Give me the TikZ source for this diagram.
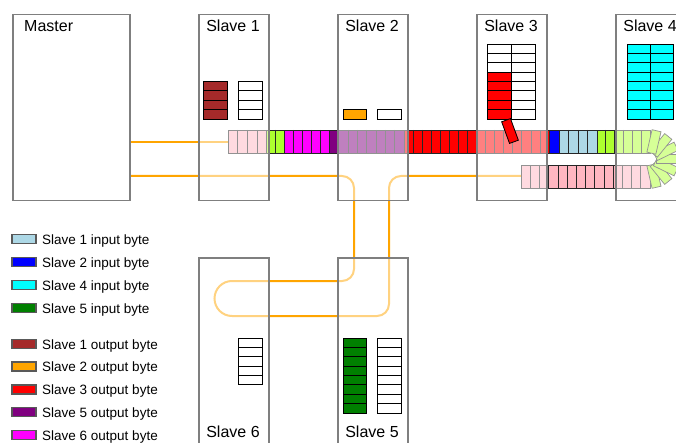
\documentclass[tikz,border=0pt]{standalone}
\usepackage{fontspec}
\setmainfont{Liberation Sans}
\definecolor{boxgray}{HTML}{7F7F7F}
\definecolor{cable}{HTML}{FFA500}
\definecolor{cbrown}{HTML}{A52A2A}
\definecolor{corange}{HTML}{FFA500}
\definecolor{cred}{HTML}{FF0000}
\definecolor{ccyan}{HTML}{00FFFF}
\definecolor{cgreen}{HTML}{008000}
\definecolor{clblue}{HTML}{ADD8E6}
\definecolor{cblue}{HTML}{0000FF}
\definecolor{cpurple}{HTML}{800080}
\definecolor{cmagenta}{HTML}{FF00FF}
\definecolor{cgy}{HTML}{ADFF2F}
\definecolor{cpink}{HTML}{FFB6C1}
\tikzset{
  slavebox/.style={draw=boxgray, line width=1.5pt, fill=white, fill opacity=0.5, draw opacity=1,
    minimum width=70pt, minimum height=186pt, anchor=north west, inner sep=0pt},
  cableline/.style={draw=cable, line width=2pt},
  regbyte/.style={draw=black, line width=0.8pt},
  framebyte/.style={draw=black!85, line width=0.7pt},
  lbl/.style={font=\fontsize{16}{19}\selectfont, inner sep=0pt, anchor=base},
  legtext/.style={font=\fontsize{13.5}{16}\selectfont, inner sep=0pt, anchor=base west},
  swatch/.style={draw=black!65, line width=1.5pt}
}
\newcommand\byterun[6]{%
  \draw[framebyte, fill=#6] (#1,#4) rectangle (#2,#5);
  \pgfmathsetmacro\bw{(#2-#1)/#3}%
  \pgfmathtruncatemacro\nn{#3-1}%
  \ifnum\nn>0
    \foreach \i in {1,...,\nn}{\draw[framebyte] ({#1+\i*\bw},#4) -- ({#1+\i*\bw},#5);}
  \fi
}
\newcommand\regcol[4]{%
  \foreach \c [count=\k from 0] in {#4}{%
    \draw[regbyte, fill=\c] (#1,{#3+\k*9.375}) rectangle (#2,{#3+(\k+1)*9.375});}%
}
\newcommand\legitem[3]{%
  \draw[swatch, fill=#1] (12,{#2-9.5}) rectangle (36,{#2-0.5});
  \node[legtext] (leg#2) at (42,#2) {#3};
}
\begin{document}
\begin{tikzpicture}[x=1pt, y=-1pt]
\useasboundingbox (0,0) rectangle (676,443);
% boxes positions as coordinates for cables
\coordinate (m1) at (129,142);
\coordinate (m2) at (129,176);
% cables
\draw[cableline] (m1) -- (228,142);
\draw[cableline, rounded corners=12pt] (m2) -- (354,176) -- (354,281) -- (232,281);
\draw[cableline] (232,281) arc[start angle=270, end angle=90, radius=17.5];
\draw[cableline, rounded corners=12pt] (232,316) -- (389,316) -- (389,176) -- (521,176);
% frame bytes, outgoing row
\byterun{228}{266.7}{4}{130}{153}{cpink}
\byterun{266.7}{284}{2}{130}{153}{cgy}
\byterun{284}{329.3}{5}{130}{153}{cmagenta}
\byterun{329.3}{404}{8}{130}{153}{cpurple}
\byterun{404}{549}{16}{130}{153}{cred}
\byterun{549}{559}{1}{130}{153}{cblue}
\byterun{559}{597}{4}{130}{153}{clblue}
\byterun{597}{650}{6}{130}{153}{cgy}
% return row
\byterun{521}{650}{14}{165}{188}{cpink}
% turnaround fan
\foreach \p in {167,141,116,90,64,39,13}{
  \node[framebyte, fill=cgy, minimum width=9.17pt, minimum height=23pt, inner sep=0pt, rotate=-\p]
    (fan\p) at ({650+17.5*sin(\p)},{159-17.5*cos(\p)}) {};
}
% boxes
\node[slavebox, minimum width=117pt] (master) at (12,14) {};
\node[slavebox] (s1) at (198,14) {};
\node[slavebox] (s2) at (337,14) {};
\node[slavebox] (s3) at (476,14) {};
\node[slavebox] (s4) at (615,14) {};
\node[slavebox] (s6) at (198,257) {};
\node[slavebox] (s5) at (337,257) {};
% registers
\regcol{203}{227}{81.5}{cbrown,cbrown,cbrown,cbrown}
\regcol{238}{262}{81.5}{white,white,white,white}
\regcol{343}{366}{109.625}{corange}
\regcol{377}{401}{109.625}{white}
\regcol{487}{511}{44}{white,white,white,cred,cred,cred,cred,cred}
\regcol{511}{535}{44}{white,white,white,white,white,white,white,white}
\regcol{627}{650}{44}{ccyan,ccyan,ccyan,ccyan,ccyan,ccyan,ccyan,ccyan}
\regcol{650}{673}{44}{ccyan,ccyan,ccyan,ccyan,ccyan,ccyan,ccyan,ccyan}
\regcol{238}{262}{338}{white,white,white,white,white}
\regcol{343}{366}{338}{cgreen,cgreen,cgreen,cgreen,cgreen,cgreen,cgreen,cgreen}
\regcol{377}{401}{338}{white,white,white,white,white,white,white,white}
% byte being written by slave 3
\node[regbyte, fill=cred, minimum width=9.4pt, minimum height=23pt, inner sep=0pt, rotate=20] (wbyte) at (510,131) {};
% labels
\node[lbl, anchor=base west] (tmaster) at (24,32) {Master};
\node[lbl] (t1) at (233,31.7) {Slave 1};
\node[lbl] (t2) at (372,31.7) {Slave 2};
\node[lbl] (t3) at (511,31.7) {Slave 3};
\node[lbl] (t4) at (650,31.7) {Slave 4};
\node[lbl] (t6) at (233,437.3) {Slave 6};
\node[lbl] (t5) at (372,437.3) {Slave 5};
% legend
\legitem{clblue}{244}{Slave 1 input byte}
\legitem{cblue}{267}{Slave 2 input byte}
\legitem{ccyan}{290}{Slave 4 input byte}
\legitem{cgreen}{313}{Slave 5 input byte}
\legitem{cbrown}{349}{Slave 1 output byte}
\legitem{corange}{371.5}{Slave 2 output byte}
\legitem{cred}{394.5}{Slave 3 output byte}
\legitem{cpurple}{417}{Slave 5 output byte}
\legitem{cmagenta}{440}{Slave 6 output byte}
\end{tikzpicture}
\end{document}
